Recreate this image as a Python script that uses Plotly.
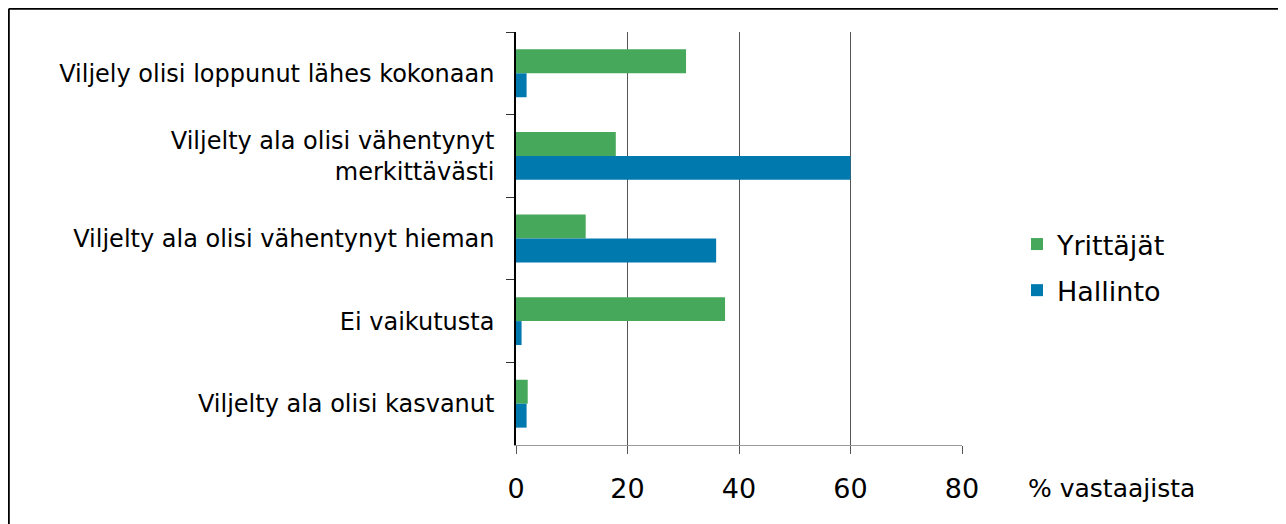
import plotly.graph_objects as go

categories = [
    "Viljely olisi loppunut lähes kokonaan",
    "Viljelty ala olisi vähentynyt<br>merkittävästi",
    "Viljelty ala olisi vähentynyt hieman",
    "Ei vaikutusta",
    "Viljelty ala olisi kasvanut",
]
yrittajat = [30.5, 17.9, 12.5, 37.5, 2.1]
hallinto = [1.9, 60.0, 35.9, 1.0, 1.9]
x_ticks = [0, 20, 40, 60, 80]

GREEN = "#46A85A"
BLUE = "#0079AF"
FONT = "DejaVu Sans"

# page body has an 8px default margin; work in screen pixels and shift
OFF = 8
W, H = 1286 - OFF, 524 - OFF
L, R, T, B = 516 - OFF, 962 - OFF, 32 - OFF, 445 - OFF


def px(sx):
    return (sx - OFF - L) / (R - L)


def py(sy):
    return (B - (sy - OFF)) / (B - T)


fig = go.Figure()
fig.add_trace(go.Bar(y=categories, x=yrittajat, name="Yrittäjät", orientation="h",
                     legendgroup="y", marker=dict(color=GREEN, line=dict(width=0))))
fig.add_trace(go.Bar(y=categories, x=hallinto, name="Hallinto", orientation="h",
                     legendgroup="h", marker=dict(color=BLUE, line=dict(width=0))))

fig.update_layout(
    width=W, height=H,
    margin=dict(l=L, r=W - R, t=T, b=H - B, pad=0),
    paper_bgcolor="white", plot_bgcolor="white",
    barmode="group", bargap=0.42, bargroupgap=0,
    font=dict(family=FONT, size=24, color="black"),
    showlegend=True,
    legend=dict(x=px(1017), y=py(220), xanchor="left", yanchor="top",
                font=dict(size=27, family=FONT), tracegroupgap=8, itemwidth=30,
                bgcolor="rgba(0,0,0,0)"),
    xaxis=dict(range=[0, 80], tickvals=x_ticks, showgrid=True, gridcolor="#555555", gridwidth=1.3,
               zeroline=False, showline=True, linecolor="#999999", linewidth=1.3,
               ticks="outside", ticklen=8, tickcolor="#555555", tickwidth=1.3,
               tickfont=dict(size=27, family=FONT), ticklabelstandoff=11, fixedrange=True),
    yaxis=dict(range=[4.5, -0.5], showgrid=False, zeroline=False, showline=True,
               linecolor="black", linewidth=1.5, ticks="outside", ticklen=8, tickcolor="#333333",
               tickwidth=1.3, tickson="boundaries", tickfont=dict(size=24, family=FONT),
               ticklabelstandoff=15, fixedrange=True),
)

fig.add_annotation(text="% vastaajista", xref="paper", yref="paper",
                   x=px(1026), y=py(488), xanchor="left", yanchor="middle",
                   showarrow=False, font=dict(size=25, family=FONT, color="black"))

# outer frame (left and top edges visible)
xl = px(8.8)
yt = py(8.8)
fig.add_shape(type="line", xref="paper", yref="paper", x0=xl, x1=xl, y0=yt, y1=-1,
              line=dict(color="black", width=2))
fig.add_shape(type="line", xref="paper", yref="paper", x0=xl, x1=3, y0=yt, y1=yt,
              line=dict(color="black", width=2))

fig.write_html("out.html", config={"displayModeBar": False})
